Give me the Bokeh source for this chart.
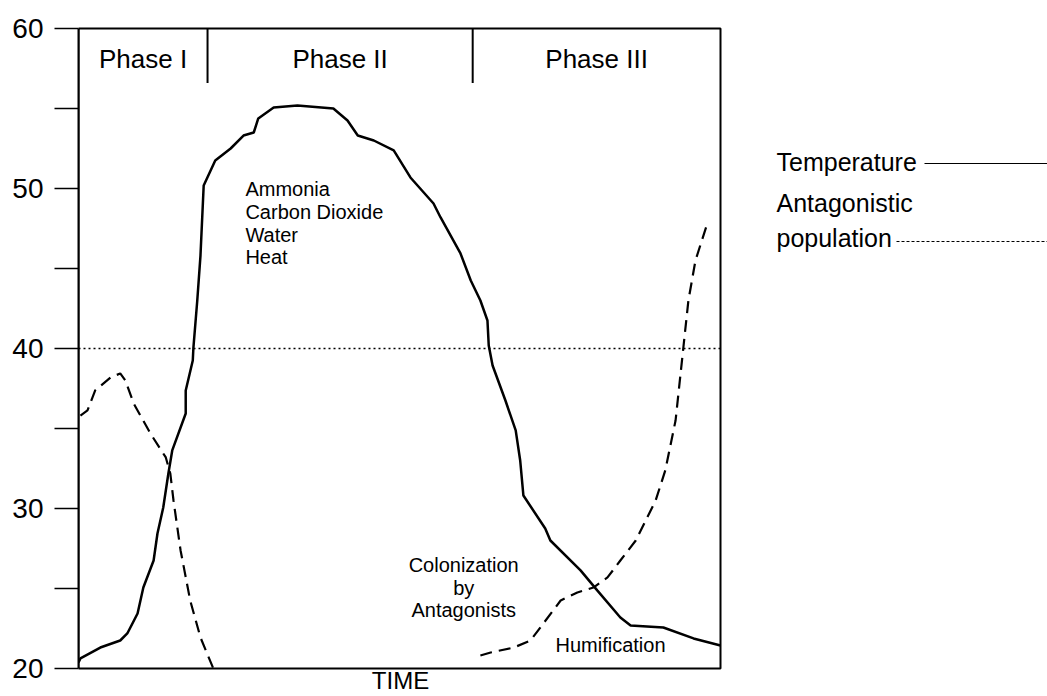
from bokeh.plotting import figure
from bokeh.models import Range1d, FixedTicker, Label
from bokeh.embed import file_html
from bokeh.resources import INLINE

# ---------------- data (time in arbitrary units 0-100) ----------------
temp_time = [0, 0.3, 3.4, 6.5, 7.6, 9.2, 10.1, 11.7, 12.3, 13.2, 14.0, 14.6, 16.7, 16.7,
             17.8, 17.9, 18.5, 19.0, 19.5, 21.3, 23.7, 25.7, 27.3, 28.0, 30.4, 34.1,
             39.7, 41.9, 43.5, 46.0, 49.1, 51.7, 55.3, 56.4, 59.5, 61.1, 62.6, 63.7,
             63.9, 64.5, 66.5, 68.1, 68.8, 69.3, 72.7, 73.5, 78.2, 80.8, 84.4, 86.0,
             91.1, 95.8, 100]
temperature = [20.38, 20.63, 21.31, 21.75, 22.19, 23.44, 25.06, 26.75, 28.44, 30.06,
               32.19, 33.63, 35.94, 37.38, 39.25, 40.06, 43.0, 45.81, 50.19, 51.75,
               52.5, 53.31, 53.5, 54.38, 55.06, 55.19, 55.0, 54.25, 53.31, 53.0, 52.38,
               50.69, 49.06, 48.19, 45.94, 44.25, 43.0, 41.75, 40.19, 38.94, 36.75,
               34.88, 33.0, 30.81, 28.75, 28.0, 26.13, 24.88, 23.19, 22.69, 22.56,
               21.88, 21.44]

ant1_time = [0.3, 1.4, 2.6, 5.0, 6.5, 7.3, 8.6, 11.2, 13.6, 14.3, 14.8, 15.9, 17.4, 19.0, 21.0]
antagonists_1 = [35.81, 36.13, 37.38, 38.19, 38.44, 38.0, 36.56, 34.69, 33.19, 32.19,
                 30.5, 27.38, 24.25, 21.94, 20.0]

ant2_time = [62.6, 64.2, 67.8, 70.4, 72.4, 75.1, 77.7, 80.2, 82.4, 84.4, 86.8, 89.9,
             91.4, 93.0, 94.2, 95.0, 96.1, 98.0]
antagonists_2 = [20.81, 21.0, 21.31, 21.75, 22.81, 24.25, 24.75, 25.06, 25.69, 26.75,
                 28.0, 30.5, 32.38, 35.5, 40.0, 43.0, 45.5, 47.88]

phase_names = ["Phase I", "Phase II", "Phase III"]
phase_bounds = [20.1, 61.4]
threshold = 40

y_major = [20, 30, 40, 50, 60]
y_minor = [25, 35, 45, 55]

FONT = "Liberation Sans"

W, H = 1047, 696
LEFT, TOP, BOTTOM_PX, RIGHT_PX = 78, 28, 668, 720
x_per_px = 100 / (RIGHT_PX - LEFT)
y_per_px = 40 / (BOTTOM_PX - TOP)


def px_x(px):
    return (px - LEFT) * x_per_px


def px_y(py):
    return 60 - (py - TOP) * y_per_px


p = figure(width=W, height=H,
           x_range=Range1d(0, px_x(W)),
           y_range=Range1d(px_y(H), px_y(0)),
           output_backend="svg", toolbar_location=None,
           min_border_left=LEFT, min_border_right=0, min_border_top=0, min_border_bottom=0)

p.background_fill_color = "white"
p.border_fill_color = "white"
p.outline_line_color = None
p.xgrid.visible = False
p.ygrid.visible = False
p.xaxis.visible = False

ya = p.yaxis[0]
ya.bounds = (20, 60)
ya.ticker = FixedTicker(ticks=y_major, minor_ticks=y_minor)
ya.axis_line_color = "black"
ya.axis_line_width = 2
ya.major_tick_out = 24
ya.major_tick_in = 0
ya.minor_tick_out = 24
ya.minor_tick_in = 0
ya.major_tick_line_width = 1.3
ya.minor_tick_line_width = 1.3
ya.major_tick_line_color = "black"
ya.minor_tick_line_color = "black"
ya.major_label_text_font = FONT
ya.major_label_text_font_size = "28px"
ya.major_label_text_color = "black"
ya.major_label_standoff = 11

# plot box (top, right, bottom edges)
p.quad(left=[0], right=[100], bottom=[20], top=[60], fill_color=None,
       line_color="black", line_width=2)

# threshold dotted line
p.segment(x0=[0], y0=[threshold], x1=[100], y1=[threshold], line_color="black",
          line_width=1.5, line_dash="2 3")

# curves
p.line(temp_time, temperature, line_color="black", line_width=2.5)
p.line(ant1_time, antagonists_1, line_color="black", line_width=2.2, line_dash="12 7")
p.line(ant2_time, antagonists_2, line_color="black", line_width=2.2, line_dash="12 7")

# phase dividers
p.segment(x0=phase_bounds, y0=[60] * len(phase_bounds), x1=phase_bounds,
          y1=[56.6] * len(phase_bounds), line_color="black", line_width=2)

edges = [0] + phase_bounds + [100]
for i, name in enumerate(phase_names):
    cx = (edges[i] + edges[i + 1]) / 2
    p.add_layout(Label(x=cx, y=58.1, text=name, text_align="center",
                       text_baseline="alphabetic", text_font=FONT,
                       text_font_size="26px", text_color="black"))

# annotations inside the plot
notes = ["Ammonia", "Carbon Dioxide", "Water", "Heat"]
for i, t in enumerate(notes):
    p.add_layout(Label(x=26.0, y=49.95 - i * 1.42, text=t, text_align="left",
                       text_baseline="alphabetic", text_font=FONT,
                       text_font_size="20px", text_color="black"))

colon = ["Colonization", "by", "Antagonists"]
for i, t in enumerate(colon):
    p.add_layout(Label(x=60.0, y=26.45 - i * 1.4, text=t, text_align="center",
                       text_baseline="alphabetic", text_font=FONT,
                       text_font_size="20px", text_color="black"))

p.add_layout(Label(x=74.3, y=21.5, text="Humification", text_align="left",
                   text_baseline="alphabetic", text_font=FONT,
                   text_font_size="20px", text_color="black"))

p.add_layout(Label(x=px_x(400), y=px_y(680), text="TIME", text_align="center",
                   text_baseline="alphabetic", text_font=FONT,
                   text_font_size="24px", text_color="black"))

# legend (right of the plot box)
legend_x = px_x(776)
x_end = px_x(W)
p.add_layout(Label(x=legend_x, y=px_y(161), text="Temperature",
                   text_align="left", text_baseline="alphabetic", text_font=FONT,
                   text_font_size="25px", text_color="black"))
p.segment(x0=[px_x(924)], y0=[px_y(163)], x1=[x_end], y1=[px_y(163)],
          line_color="black", line_width=1)
p.add_layout(Label(x=legend_x, y=px_y(202), text="Antagonistic",
                   text_align="left", text_baseline="alphabetic", text_font=FONT,
                   text_font_size="25px", text_color="black"))
p.add_layout(Label(x=legend_x, y=px_y(237), text="population",
                   text_align="left", text_baseline="alphabetic", text_font=FONT,
                   text_font_size="25px", text_color="black"))
p.segment(x0=[px_x(896)], y0=[px_y(241)], x1=[x_end], y1=[px_y(241)],
          line_color="black", line_width=1, line_dash="3 2")

open("out.html", "w").write(file_html(p, INLINE))
